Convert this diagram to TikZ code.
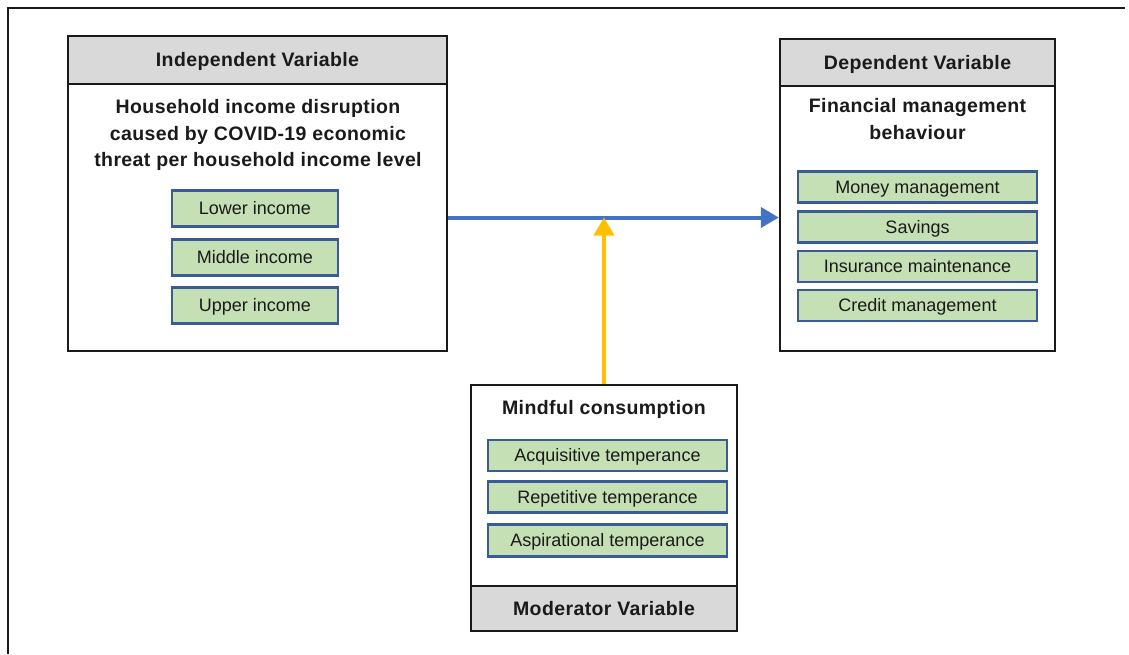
\documentclass[tikz,border=0pt]{standalone}
\usepackage{fontspec}
\setmainfont{Liberation Sans}
\newfontfamily\boldtext[LetterSpace=2]{Liberation Sans}
\newfontfamily\itemtext{Liberation Sans}
\usetikzlibrary{arrows.meta}
\definecolor{headgray}{HTML}{D9D9D9}
\definecolor{itemgreen}{HTML}{C5E0B4}
\definecolor{itemblue}{HTML}{3A5A98}
\definecolor{linkblue}{HTML}{4472C4}
\definecolor{linkgold}{HTML}{FFC000}
\definecolor{inkdark}{HTML}{1A1A1A}
\tikzset{
  panel/.style={draw=inkdark, line width=2.4, fill=white, inner sep=0},
  header/.style={draw=inkdark, line width=2.4, fill=headgray, inner sep=0,
    text height=14pt, text depth=0.5pt,
    font=\boldtext\bfseries\fontsize{19.5}{22}\selectfont, text=inkdark},
  title/.style={align=center, inner sep=0, text=inkdark,
    font=\boldtext\bfseries\fontsize{19.5}{26.5}\selectfont},
  item/.style={draw=itemblue, line width=2.2, fill=itemgreen, inner sep=0,
    text height=13pt, text depth=0.5pt,
    font=\itemtext\fontsize{18}{20}\selectfont, text=inkdark},
  link/.style={line width=4, -{Triangle[length=18pt,width=20pt]}}
}
\begin{document}
\begin{tikzpicture}[x=1pt, y=-1pt]
\useasboundingbox (0,0) rectangle (1129,654);
% outer frame (top and left edges only)
\draw[line width=1.6, inkdark] (8,654) -- (8,8) -- (1125,8);

% independent variable
\node[panel, minimum width=379, minimum height=267] (iv) at (257.5,217.5) {};
\node[header, minimum width=379, minimum height=48] (ivh) at (257.5,60) {Independent Variable};
\node[title] (ivt) at (258,135) {Household income disruption\\caused by COVID-19 economic\\threat per household income level};
\node[item, minimum width=166, minimum height=36] (lo) at (255,208.5) {Lower income};
\node[item, minimum width=166, minimum height=36] (mi) at (255,257.5) {Middle income};
\node[item, minimum width=166, minimum height=36] (up) at (255,305.5) {Upper income};

% dependent variable
\node[panel, minimum width=275, minimum height=265] (dv) at (917.5,218.5) {};
\node[header, minimum width=275, minimum height=47] (dvh) at (917.5,62.5) {Dependent Variable};
\node[title] (dvt) at (917.5,119) {Financial management\\behaviour};
\node[item, minimum width=239, minimum height=31] (mm) at (917.5,187) {Money management};
\node[item, minimum width=239, minimum height=31] (sv) at (917.5,227) {Savings};
\node[item, minimum width=239, minimum height=31] (im) at (917.5,266.5) {Insurance maintenance};
\node[item, minimum width=239, minimum height=31] (cm) at (917.5,305.5) {Credit management};

% moderator variable
\node[panel, minimum width=266, minimum height=246] (mc) at (604,508) {};
\node[header, minimum width=266, minimum height=45] (mch) at (604,608.5) {Moderator Variable};
\node[title] (mct) at (604,409) {Mindful consumption};
\node[item, minimum width=239, minimum height=31] (aq) at (607.5,455.5) {Acquisitive temperance};
\node[item, minimum width=239, minimum height=31] (rp) at (607.5,497) {Repetitive temperance};
\node[item, minimum width=239, minimum height=32] (as) at (607.5,540.5) {Aspirational temperance};

% relationships
\draw[link, linkblue] (iv.east) -- (iv.east -| dv.west);
\coordinate (meet) at (mc.north |- iv.east);
\draw[link, linkgold] (mc.north) -- (meet);
\end{tikzpicture}
\end{document}
